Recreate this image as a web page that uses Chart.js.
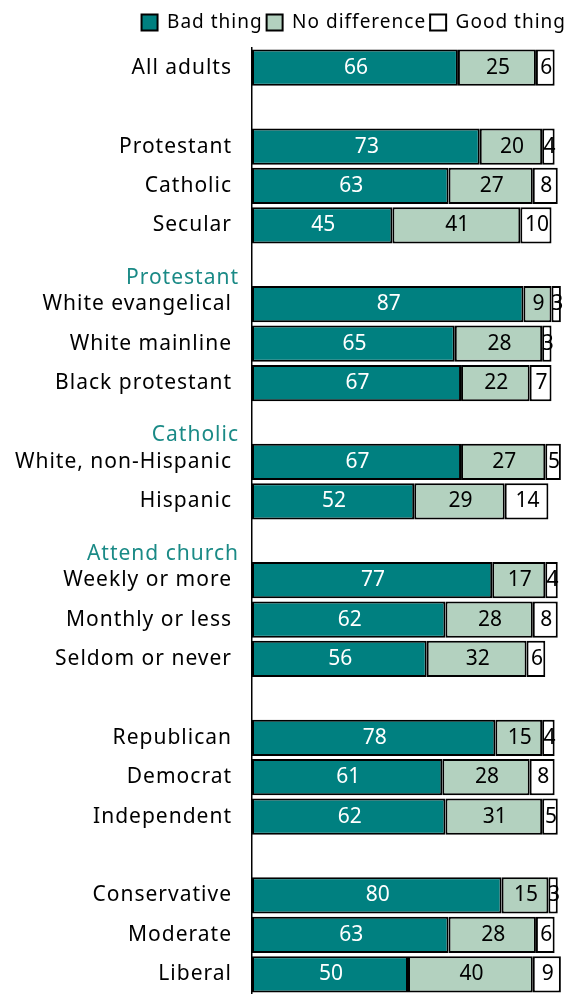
<html>

<head>
    <title>Religion chart</title>
    <style>
        html,
        body {
            margin: 0;
            background: #fff;
        }
        #wrap {
            width: 569px;
            height: 994px;
        }
    </style>
</head>

<body>
    <div id="wrap"><canvas id="chart"></canvas></div>

    <script src="https://cdn.jsdelivr.net/npm/chart.js@4"></script>
    <script>
        // rows, top to bottom ('' = spacer / section heading row)
        var categories = ['All adults', '', 'Protestant', 'Catholic', 'Secular', '',
            'White evangelical', 'White mainline', 'Black protestant', '',
            'White, non-Hispanic', 'Hispanic', '',
            'Weekly or more', 'Monthly or less', 'Seldom or never', '',
            'Republican', 'Democrat', 'Independent', '',
            'Conservative', 'Moderate', 'Liberal']

        // section headings sit on the empty rows
        var headingRows = [5, 9, 12]
        var headingText = ['Protestant', 'Catholic', 'Attend church']

        var badThing = [66, null, 73, 63, 45, null, 87, 65, 67, null, 67, 52, null, 77, 62, 56, null, 78, 61, 62, null, 80, 63, 50]
        var noDifference = [25, null, 20, 27, 41, null, 9, 28, 22, null, 27, 29, null, 17, 28, 32, null, 15, 28, 31, null, 15, 28, 40]
        var goodThing = [6, null, 4, 8, 10, null, 3, 3, 7, null, 5, 14, null, 4, 8, 6, null, 4, 8, 5, null, 3, 6, 9]

        var TEAL = '#008080'
        var FONT = 'Noto Sans'

        var spacing = {
            id: 'spacing',
            beforeLayout: function (c) { c.ctx.letterSpacing = '1px' },
            afterLayout: function (c) {
                // push the legend flush with the right edge
                c.legend.left += 6
                c.legend.right += 6
            },
            beforeDraw: function (c) { c.ctx.letterSpacing = '1px' }
        }

        var valueLabels = {
            id: 'valueLabels',
            afterDatasetsDraw: function (c) {
                var ctx = c.ctx
                ctx.save()
                ctx.letterSpacing = '0px'
                ctx.font = '21px "' + FONT + '"'
                ctx.textAlign = 'center'
                ctx.textBaseline = 'middle'
                c.data.datasets.forEach(function (ds, i) {
                    var meta = c.getDatasetMeta(i)
                    meta.data.forEach(function (el, j) {
                        var v = ds.data[j]
                        if (v == null) return
                        var p = el.getProps(['x', 'y', 'base'], true)
                        ctx.fillStyle = i == 0 ? '#fff' : '#000'
                        ctx.fillText(v, (p.x + p.base) / 2 + 1, p.y)
                    })
                })
                ctx.restore()
            }
        }

        var headings = {
            id: 'headings',
            afterDraw: function (c) {
                var ctx = c.ctx
                var ys = c.scales.y
                ctx.save()
                ctx.letterSpacing = '1px'
                ctx.font = '21px "' + FONT + '"'
                ctx.textAlign = 'right'
                ctx.textBaseline = 'middle'
                ctx.fillStyle = '#1a8a86'
                headingRows.forEach(function (r, k) {
                    ctx.fillText(headingText[k], ys.right - 13, ys.getPixelForValue(r) + 13)
                })
                ctx.restore()
            }
        }

        var my_chart = new Chart(chart.getContext('2d'), {
            type: 'bar',
            data: {
                labels: categories,
                datasets: [{
                    label: 'Bad thing',
                    data: badThing,
                    backgroundColor: TEAL,
                    borderColor: '#000',
                    borderWidth: 2,
                    borderSkipped: false
                }, {
                    label: 'No difference',
                    data: noDifference,
                    backgroundColor: '#b3d1bf',
                    borderColor: '#000',
                    borderWidth: 2,
                    borderSkipped: false
                }, {
                    label: 'Good thing',
                    data: goodThing,
                    backgroundColor: '#fff',
                    borderColor: '#000',
                    borderWidth: 2,
                    borderSkipped: false
                }]
            },
            options: {
                indexAxis: 'y',
                maintainAspectRatio: false,
                responsive: true,
                animation: false,
                barPercentage: 0.92,
                categoryPercentage: 1,
                layout: { padding: { top: 9, right: 5, left: 0, bottom: 0 } },
                plugins: {
                    tooltip: { enabled: false },
                    legend: {
                        position: 'top',
                        align: 'end',
                        labels: {
                            boxWidth: 16,
                            boxHeight: 16,
                            padding: 4,
                            color: '#000',
                            font: { family: FONT, size: 19 }
                        }
                    }
                },
                scales: {
                    x: {
                        stacked: true,
                        position: 'top',
                        min: 0,
                        max: 100,
                        grid: { display: false, drawTicks: false },
                        border: { display: false },
                        ticks: { display: false },
                        afterFit: function (s) { s.height = 6 }
                    },
                    y: {
                        stacked: true,
                        grid: { display: false, drawTicks: false },
                        border: { display: true, color: '#000', width: 1.5 },
                        afterFit: function (s) {
                            s.width = 252
                            s.paddingTop = 0
                            s.paddingBottom = 0
                        },
                        ticks: {
                            padding: 20,
                            color: '#000',
                            autoSkip: false,
                            font: { family: FONT, size: 21 }
                        }
                    }
                }
            },
            plugins: [spacing, valueLabels, headings]
        });
    </script>
</body>

</html>
